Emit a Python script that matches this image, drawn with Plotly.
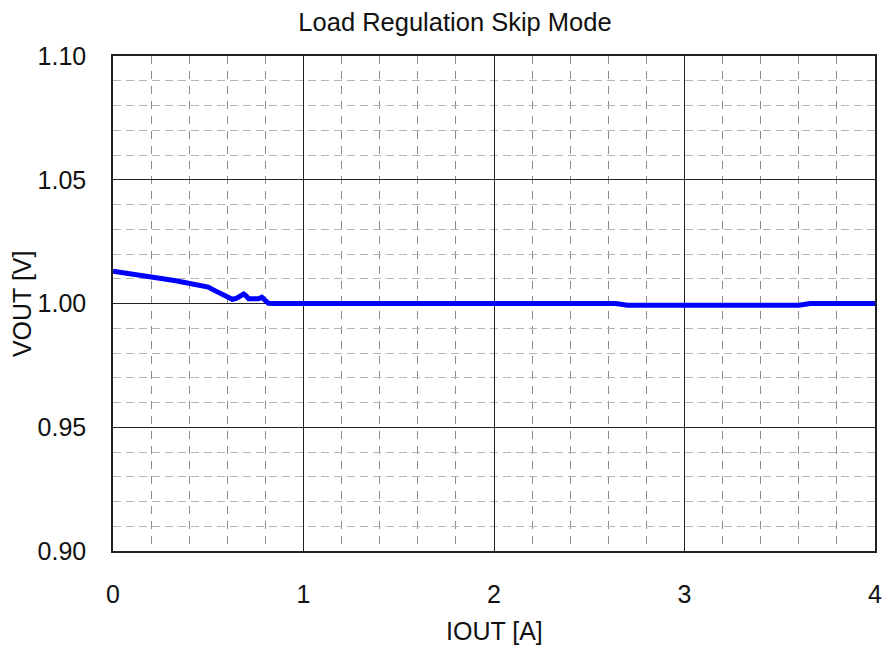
import plotly.graph_objects as go

# Load regulation data
iout = [0.0, 0.05, 0.106, 0.15, 0.192, 0.25, 0.279, 0.33, 0.366, 0.42, 0.452,
        0.5, 0.522, 0.55, 0.574, 0.6, 0.626, 0.645, 0.66, 0.686, 0.70, 0.712,
        0.74, 0.764, 0.781, 0.798, 0.816, 0.85, 1.0, 1.5, 2.0, 2.5, 2.64,
        2.70, 3.0, 3.3, 3.6, 3.66, 4.0]
vout = [1.0130, 1.0125, 1.0118, 1.0113, 1.0108, 1.0102, 1.0098, 1.0092, 1.0087,
        1.0080, 1.0074, 1.0066, 1.0057, 1.0045, 1.0034, 1.0025, 1.0017, 1.0020,
        1.0028, 1.0038, 1.0030, 1.0019, 1.0019, 1.0019, 1.0025, 1.0014, 1.0001,
        1.0000, 1.0000, 1.0000, 1.0000, 1.0000, 1.0000, 0.9993, 0.9993, 0.9993,
        0.9993, 1.0000, 1.0000]

x_ticks = [0, 1, 2, 3, 4]
y_ticks = [0.90, 0.95, 1.00, 1.05, 1.10]

FONT = "Liberation Sans, Arial, Helvetica, sans-serif"

fig = go.Figure()
fig.add_trace(go.Scatter(
    x=iout, y=vout, mode='lines',
    line=dict(color='#0000ff', width=5),
    showlegend=False))

fig.update_xaxes(
    range=[0, 4], tickvals=x_ticks, ticks='', ticklabelstandoff=20,
    showgrid=True, gridcolor='#222222', gridwidth=1,
    minor=dict(dtick=0.2, showgrid=True, gridcolor='#8c8c8c', griddash='8px,7px', gridwidth=1),
    showline=True, linecolor='#222222', linewidth=1.5, mirror=True,
    zeroline=False, tickfont=dict(size=25, color='#111111'))
fig.update_yaxes(
    range=[0.90, 1.10], tickvals=y_ticks, tickformat='.2f', ticks='',
    ticklabelstandoff=20,
    showgrid=True, gridcolor='#222222', gridwidth=1,
    minor=dict(dtick=0.01, showgrid=True, gridcolor='#b5b5b5', griddash='8px,5px', gridwidth=1.3),
    showline=True, linecolor='#222222', linewidth=1.5, mirror=True,
    zeroline=False, tickfont=dict(size=25, color='#111111'))

fig.update_layout(
    width=890, height=649,
    margin=dict(l=113, r=8, t=56, b=98),
    paper_bgcolor='white', plot_bgcolor='white',
    font=dict(family=FONT, size=25, color='#111111'),
    title=dict(text='Load Regulation Skip Mode', x=455 / 890, xanchor='center',
               y=1 - 22.5 / 649, yanchor='middle', yref='container',
               font=dict(size=25.5)),
    annotations=[
        dict(text='IOUT [A]', xref='paper', yref='paper', x=0.5, y=-0.162,
             xanchor='center', yanchor='middle', showarrow=False, font=dict(size=25)),
        dict(text='VOUT [V]', xref='paper', yref='paper', x=-0.12, y=0.5,
             xanchor='center', yanchor='middle', showarrow=False, textangle=-90,
             font=dict(size=25)),
    ],
)

# drop the page's default body margin so the figure fills the window exactly
fig.write_html("out.html", config={'displayModeBar': False},
               post_script="document.body.style.margin='0';")
